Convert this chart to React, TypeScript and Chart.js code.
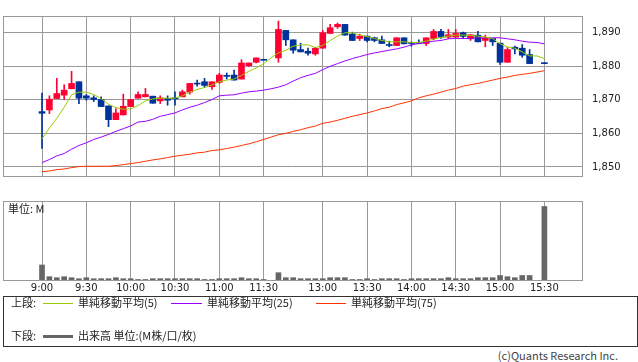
import React, { useEffect, useRef } from 'react';
import { Chart, registerables } from 'chart.js';

Chart.register(...registerables);

// ---- data ----
const times: string[] = [
  '9:00','9:05','9:10','9:15','9:20','9:25','9:30','9:35','9:40','9:45','9:50','9:55',
  '10:00','10:05','10:10','10:15','10:20','10:25','10:30','10:35','10:40','10:45','10:50','10:55',
  '11:00','11:05','11:10','11:15','11:20','11:25','11:30','',
  '12:30','12:35','12:40','12:45','12:50','12:55',
  '13:00','13:05','13:10','13:15','13:20','13:25','13:30','13:35','13:40','13:45','13:50','13:55',
  '14:00','14:05','14:10','14:15','14:20','14:25','14:30','14:35','14:40','14:45','14:50','14:55',
  '15:00','15:05','15:10','15:15','15:20','15:25','15:30',
];

const tickLabels: string[] = ['9:00','9:30','10:00','10:30','11:00','11:30','13:00','13:30','14:00','14:30','15:00','15:30'];
const priceTicks: number[] = [1850, 1860, 1870, 1880, 1890];

const opens: (number | null)[] = [
  1866.5,1867.0,1870.4,1871.4,1873.3,1875.4,1871.2,1870.6,1870.1,1868.2,1864.1,1865.5,
  1868.0,1870.5,1870.9,1871.1,1869.7,1870.4,1870.5,1870.9,1872.3,1874.9,1875.4,1873.9,
  1875.2,1877.3,1877.4,1876.2,1880.2,1881.2,1882.0,null,
  1882.5,1890.7,1887.9,1885.0,1884.5,1883.7,
  1885.4,1889.8,1891.8,1892.5,1889.6,1888.3,1889.0,1888.5,1887.9,1886.5,1886.2,1888.5,
  1887.1,1887.1,1886.8,1888.3,1890.4,1888.7,1888.7,1890.0,1888.2,1889.3,1887.7,1888.3,
  1886.9,1881.2,1885.7,1885.4,1883.5,null,1881.0,
];
const highs: (number | null)[] = [
  1872.0,1871.2,1876.4,1874.5,1878.5,1875.4,1871.6,1871.2,1870.9,1868.2,1867.4,1871.7,
  1870.1,1872.4,1873.4,1871.1,1871.2,1871.2,1872.4,1872.9,1874.9,1875.9,1876.4,1875.4,
  1877.9,1878.0,1878.9,1882.0,1881.0,1882.5,1882.0,null,
  1893.5,1890.7,1887.9,1886.9,1885.4,1885.7,
  1890.7,1892.5,1892.9,1892.5,1890.2,1889.6,1889.0,1888.7,1889.0,1887.5,1888.5,1888.5,
  1887.3,1887.9,1888.5,1891.0,1891.0,1891.0,1891.0,1890.2,1889.4,1890.4,1889.3,1888.3,
  1886.9,1885.6,1886.0,1886.5,1885.0,null,1881.0,
];
const lows: (number | null)[] = [
  1855.5,1865.9,1870.4,1870.1,1873.3,1868.9,1869.9,1869.5,1868.0,1862.0,1864.1,1865.5,
  1868.0,1870.5,1870.9,1869.0,1868.9,1868.4,1868.4,1870.9,1871.7,1874.1,1873.7,1873.1,
  1874.9,1876.2,1875.9,1876.2,1880.0,1881.0,1881.8,null,
  1881.2,1886.2,1883.9,1884.3,1883.3,1883.3,
  1885.4,1889.8,1891.3,1889.3,1887.7,1887.7,1887.3,1887.3,1886.8,1885.8,1886.2,1886.7,
  1886.0,1886.7,1886.2,1887.9,1888.3,1888.3,1888.7,1888.3,1887.7,1887.3,1885.8,1886.2,
  1880.6,1881.2,1883.7,1882.7,1880.8,null,1880.8,
];
const closes: (number | null)[] = [
  1866.0,1870.2,1871.9,1872.9,1874.9,1870.5,1870.5,1870.1,1868.0,1864.1,1866.1,1868.1,
  1870.1,1871.6,1871.6,1869.0,1870.6,1869.9,1870.3,1872.4,1874.9,1874.7,1874.3,1875.4,
  1877.4,1877.0,1875.9,1881.0,1881.0,1882.5,1881.8,null,
  1891.0,1887.9,1884.8,1884.3,1883.9,1885.4,
  1890.0,1891.5,1892.5,1889.3,1887.7,1889.0,1887.7,1887.7,1886.8,1886.2,1888.5,1886.7,
  1886.8,1886.8,1888.5,1890.4,1888.7,1889.4,1889.8,1888.9,1889.4,1887.3,1888.5,1887.3,
  1881.2,1885.0,1885.2,1883.3,1880.8,null,1880.8,
];

const ma5: (number | null)[] = [
  1858.4,1861.6,1864.5,1867.8,1871.5,1872.3,1872.3,1871.6,1870.4,1868.7,1867.7,1867.2,
  1867.3,1868.3,1869.7,1870.3,1870.5,1870.5,1870.5,1871.2,1872.3,1873.1,1873.7,1874.4,
  1875.4,1875.9,1876.2,1877.3,1878.5,1879.5,1880.8,1882.5,
  1884.0,1884.8,1886.0,1886.4,1886.4,1885.6,
  1886.2,1887.7,1889.0,1890.0,1890.0,1889.3,1888.9,1888.3,1887.7,1887.3,1887.3,1887.3,
  1887.1,1887.1,1887.5,1888.1,1888.6,1889.0,1889.3,1889.3,1889.2,1889.0,1888.7,1888.3,
  1886.7,1885.8,1885.4,1884.3,1883.1,1883.1,1882.3,
];
const ma25: (number | null)[] = [
  1851.3,1852.2,1853.3,1854.0,1855.3,1856.4,1857.2,1858.2,1858.9,1859.7,1860.6,1861.4,
  1862.2,1863.4,1863.6,1864.2,1865.1,1865.6,1866.1,1867.0,1867.8,1868.4,1869.2,1870.1,
  1871.2,1871.4,1871.5,1872.0,1872.4,1872.6,1872.9,1873.3,
  1873.8,1874.5,1875.6,1876.6,1877.3,1877.9,
  1879.0,1880.0,1880.8,1881.6,1882.3,1882.9,1883.5,1884.0,1884.4,1884.8,1885.2,1885.7,
  1886.4,1886.8,1887.1,1887.5,1887.7,1888.2,1888.3,1888.3,1888.3,1888.5,1888.5,1888.5,
  1888.5,1888.2,1887.9,1887.5,1887.2,1887.1,1886.7,
];
const ma75: (number | null)[] = [
  1848.6,1848.8,1849.2,1849.4,1849.8,1850.1,1850.2,1850.2,1850.2,1850.2,1850.4,1850.7,
  1851.0,1851.3,1851.7,1852.1,1852.4,1852.8,1853.2,1853.5,1853.8,1854.2,1854.4,1854.9,
  1855.1,1855.5,1855.9,1856.4,1856.9,1857.5,1858.2,1858.9,
  1859.6,1860.0,1860.6,1861.1,1861.7,1862.2,
  1863.0,1863.4,1863.9,1864.5,1865.1,1865.6,1866.1,1866.7,1867.4,1867.8,1868.6,1869.1,
  1869.7,1870.6,1871.2,1871.7,1872.3,1872.9,1873.4,1874.1,1874.5,1874.9,1875.4,1875.9,
  1876.4,1876.8,1877.3,1877.6,1877.9,1878.3,1878.7,
];

// volume (M)
const volumes: (number | null)[] = [
  0.150,0.033,0.023,0.033,0.023,0.013,0.023,0.013,0.013,0.013,0.023,0.013,
  0.013,0.005,0.005,0.013,0.013,0.013,0.013,0.013,0.013,0.013,0.005,0.005,
  0.013,0.013,0.013,0.023,0.013,0.013,0.005,null,
  0.073,0.023,0.023,0.013,0.013,0.013,
  0.013,0.023,0.023,0.023,0.005,0.005,0.013,0.005,0.013,0.013,0.013,0.005,
  0.013,0.013,0.013,0.013,0.013,0.023,0.013,0.013,0.013,0.023,0.023,0.023,
  0.045,0.033,0.023,0.045,0.045,null,0.735,
];

const X_MIN = -5.28;
const X_MAX = 73.09;
const UP = '#ff0033';
const DOWN = '#003399';
const GRID = '#999999';
const TICK_FONT = { family: '"DejaVu Sans", sans-serif', size: 10 };
const JP = '"Noto Sans CJK JP", sans-serif';

const framePlugin = {
  id: 'frame',
  beforeDatasetsDraw(chart: any) {
    const { ctx, chartArea } = chart;
    const l = Math.round(chartArea.left), t = Math.round(chartArea.top);
    const r = Math.round(chartArea.right), b = Math.round(chartArea.bottom);
    ctx.save();
    ctx.strokeStyle = GRID;
    ctx.lineWidth = 1;
    ctx.strokeRect(l + 0.5, t + 0.5, r - l, b - t);
    ctx.restore();
  },
};

function xScale(showLabels: boolean, height: number) {
  const tickIdx = tickLabels.map((l) => times.indexOf(l));
  return {
    type: 'linear',
    min: X_MIN,
    max: X_MAX,
    offset: false,
    afterBuildTicks: (s: any) => { s.ticks = tickIdx.map((v) => ({ value: v })); },
    afterFit: (s: any) => { s.height = height; },
    grid: { color: GRID, lineWidth: 1, drawTicks: false, offset: false },
    border: { display: false },
    ticks: {
      display: showLabels,
      autoSkip: false,
      maxRotation: 0,
      padding: 2,
      color: '#222',
      font: TICK_FONT,
      callback: (v: any) => times[v as number] ?? '',
    },
  };
}

export default function App() {
  const topRef = useRef<HTMLCanvasElement>(null);
  const volRef = useRef<HTMLCanvasElement>(null);

  useEffect(() => {
    const idx = times.map((_, i) => i).filter((i) => opens[i] != null);
    const candleColors = idx.map((i) => ((closes[i] as number) > (opens[i] as number) ? UP : DOWN));
    const line = (arr: (number | null)[], color: string, order: number) => ({
      type: 'line',
      data: arr.map((v, i) => ({ x: i, y: v })),
      borderColor: color,
      borderWidth: 1,
      pointRadius: 0,
      tension: 0,
      spanGaps: true,
      order,
    });

    const top = new Chart(topRef.current as HTMLCanvasElement, {
      type: 'bar',
      data: {
        datasets: [
          {
            type: 'bar',
            data: idx.map((i) => ({ x: i, y: [lows[i], highs[i]] })),
            backgroundColor: candleColors,
            barThickness: 1,
            grouped: false,
            order: 5,
          },
          {
            type: 'bar',
            data: idx.map((i) => ({ x: i, y: [opens[i], closes[i]] })),
            backgroundColor: candleColors,
            barThickness: 6,
            minBarLength: 1,
            grouped: false,
            order: 4,
          },
          line(ma75, '#ff3300', 3),
          line(ma25, '#9900ff', 2),
          line(ma5, '#99cc00', 1),
        ] as any,
      },
      options: {
        responsive: false,
        animation: false,
        devicePixelRatio: 1,
        layout: { padding: { left: 3, top: 0, right: 0, bottom: 2 }, autoPadding: false },
        plugins: { legend: { display: false }, tooltip: { enabled: false } },
        scales: {
          x: xScale(false, 0) as any,
          y: {
            type: 'linear',
            position: 'right',
            min: 1847.3,
            max: 1895.0,
            beginAtZero: false,
            afterBuildTicks: (s: any) => { s.ticks = priceTicks.map((v) => ({ value: v })); },
            afterFit: (s: any) => { s.width = 56; },
            grid: { color: GRID, drawTicks: false },
            border: { display: false },
            ticks: {
              padding: 10,
              color: '#222',
              font: TICK_FONT,
              callback: (v: any) => Number(v).toLocaleString('en-US'),
            },
          } as any,
        },
      },
      plugins: [framePlugin],
    });

    const vIdx = times.map((_, i) => i).filter((i) => volumes[i] != null);
    const vol = new Chart(volRef.current as HTMLCanvasElement, {
      type: 'bar',
      data: {
        datasets: [
          {
            data: vIdx.map((i) => ({ x: i, y: volumes[i] })),
            backgroundColor: '#666666',
            barThickness: 5,
            grouped: false,
          },
        ] as any,
      },
      options: {
        responsive: false,
        animation: false,
        devicePixelRatio: 1,
        layout: { padding: { left: 3, top: 6, right: 0, bottom: 0 }, autoPadding: false },
        plugins: { legend: { display: false }, tooltip: { enabled: false } },
        scales: {
          x: xScale(true, 15) as any,
          y: {
            type: 'linear',
            position: 'right',
            min: 0,
            max: 0.79,
            afterFit: (s: any) => { s.width = 56; },
            grid: { display: false },
            border: { display: false },
            ticks: { display: false },
          } as any,
        },
      },
      plugins: [framePlugin],
    });

    return () => {
      top.destroy();
      vol.destroy();
    };
  }, []);

  const txt = (left: number, cy: number, s: string, size = 11): React.ReactElement => (
    <div
      style={{
        position: 'absolute', left, top: cy - Math.round(size * 0.6), fontFamily: JP, fontSize: size,
        lineHeight: `${Math.round(size * 1.2)}px`, color: '#222', whiteSpace: 'nowrap',
      }}
    >
      {s}
    </div>
  );
  const bar = (left: number, cy: number, width: number, h: number, color: string): React.ReactElement => (
    <div style={{ position: 'absolute', left, top: cy - Math.floor(h / 2), width, height: h, background: color }} />
  );

  return (
    <div style={{ position: 'absolute', left: 0, top: 0, width: 638, height: 362, background: '#fff', overflow: 'hidden' }}>
      <canvas ref={topRef} width={638} height={192} style={{ position: 'absolute', left: 0, top: 0, width: 638, height: 192 }} />
      <canvas ref={volRef} width={638} height={100} style={{ position: 'absolute', left: 0, top: 195, width: 638, height: 100 }} />
      {txt(8, 209, '単位: M')}
      <div style={{ position: 'absolute', left: 3, top: 296, width: 635, height: 51, border: '1px solid #333', boxSizing: 'border-box' }} />
      {txt(11, 303, '上段:')}
      {bar(43, 303, 30, 1, '#99cc00')}
      {txt(78, 303, '単純移動平均(5)')}
      {bar(171, 303, 31, 1, '#9900ff')}
      {txt(207, 303, '単純移動平均(25)')}
      {bar(316, 303, 30, 1, '#ff3300')}
      {txt(351, 303, '単純移動平均(75)')}
      {txt(11, 336, '下段:')}
      {bar(43, 336, 30, 3, '#666666')}
      {txt(78, 336, '出来高 単位:(M株/口/枚)')}
      <div style={{ position: 'absolute', right: 20, top: 349, fontFamily: JP, fontSize: 11, lineHeight: '13px', color: '#444', whiteSpace: 'nowrap' }}>
        (c)Quants Research Inc.
      </div>
    </div>
  );
}
